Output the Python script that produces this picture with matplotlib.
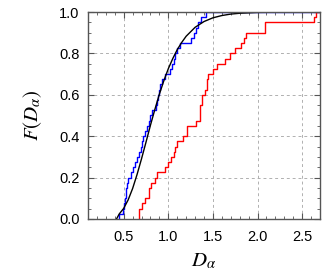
import numpy as np
import matplotlib
matplotlib.use("Agg")
import matplotlib.pyplot as plt
from matplotlib.ticker import MultipleLocator

plt.rcParams['font.family'] = ['Liberation Sans', 'DejaVu Sans']
plt.rcParams['mathtext.fontset'] = 'stix'

# blue empirical CDF: sample values (sorted)
blue_x = [0.45, 0.49, 0.505, 0.52, 0.525, 0.53, 0.54, 0.55, 0.58, 0.60,
          0.63, 0.65, 0.67, 0.69, 0.70, 0.72, 0.74, 0.76, 0.78, 0.80,
          0.82, 0.86, 0.87, 0.89, 0.90, 0.91, 0.93, 0.96, 1.02, 1.04,
          1.06, 1.08, 1.10, 1.13, 1.25, 1.29, 1.31, 1.33, 1.37, 1.42]

# red empirical CDF: jump positions and level after each jump
red_x = [0.673, 0.70, 0.74, 0.785, 0.81, 0.85, 0.87, 0.96, 1.00, 1.03,
         1.06, 1.08, 1.10, 1.17, 1.21, 1.31, 1.35, 1.38, 1.41, 1.43,
         1.45, 1.50, 1.55, 1.63, 1.69, 1.75, 1.815, 1.845, 1.875, 2.08,
         2.63, 2.66]
red_F = [0.05, 0.075, 0.10, 0.15, 0.175, 0.20, 0.225, 0.25, 0.275, 0.30,
         0.325, 0.35, 0.375, 0.40, 0.45, 0.475, 0.55, 0.60, 0.625, 0.675,
         0.70, 0.725, 0.75, 0.775, 0.80, 0.825, 0.85, 0.875, 0.90, 0.95,
         0.975, 1.0]

# black fitted curve
fit_x = [0.42, 0.45, 0.50, 0.55, 0.60, 0.65, 0.70, 0.75, 0.80, 0.85,
         0.90, 0.95, 1.00, 1.05, 1.10, 1.15, 1.20, 1.30, 1.40, 1.50,
         1.60, 1.70, 1.80, 2.00, 2.20, 2.70]
fit_F = [0.0, 0.024, 0.051, 0.092, 0.147, 0.215, 0.291, 0.371, 0.453, 0.530,
         0.603, 0.668, 0.726, 0.775, 0.818, 0.853, 0.883, 0.926, 0.954, 0.972,
         0.983, 0.990, 0.994, 0.998, 0.999, 1.0]

fig = plt.figure(figsize=(3.32, 2.73), dpi=100)
ax = fig.add_axes([0.265, 0.198, 0.699, 0.758])

bx = np.sort(np.array(blue_x))
bF = np.arange(1, len(bx) + 1) / len(bx)
ax.step(np.r_[bx[0], bx, 2.7], np.r_[0, bF, 1.0], where='post', color='#0000ff', lw=1.0)
ax.step(np.r_[red_x[0], red_x, 2.7], np.r_[0, red_F, 1.0], where='post', color='#ff0000', lw=1.0)
ax.plot(fit_x, fit_F, color='black', lw=1.0)

ax.set_xlim(0.1, 2.7)
ax.set_ylim(0, 1.0)
ax.xaxis.set_major_locator(MultipleLocator(0.5))
ax.xaxis.set_minor_locator(MultipleLocator(0.1))
ax.yaxis.set_major_locator(MultipleLocator(0.2))
ax.yaxis.set_minor_locator(MultipleLocator(0.05))
ax.xaxis.set_major_formatter(matplotlib.ticker.FormatStrFormatter('%.1f'))
ax.yaxis.set_major_formatter(matplotlib.ticker.FormatStrFormatter('%.1f'))
ax.tick_params(which='both', direction='in', top=True, right=True,
               color='#555555', labelsize=10.5)
ax.tick_params(axis='x', which='major', pad=8)
ax.tick_params(axis='y', which='major', pad=6)
ax.tick_params(which='major', length=4, width=0.8)
ax.tick_params(which='minor', length=2.5, width=0.6)
for s in ax.spines.values():
    s.set_color('#555555')
    s.set_linewidth(1.0)
ax.grid(True, which='major', color='#b0b0b0', linestyle=(0, (3, 3)), lw=0.7)

ax.set_xlabel(r'$D_\alpha$', fontsize=15, labelpad=5)
ax.set_ylabel(r'$F(D_\alpha)$', fontsize=15, labelpad=11)

fig.savefig('out.png', dpi=100)
